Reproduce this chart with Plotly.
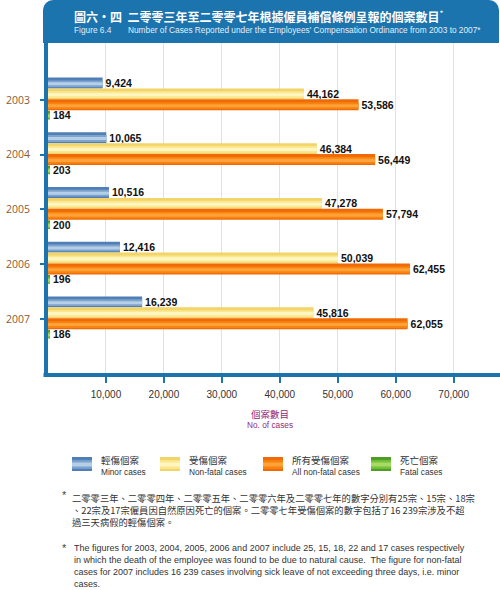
import plotly.graph_objects as go

years = ["2003", "2004", "2005", "2006", "2007"]
minor_cases = [9424, 10065, 10516, 12416, 16239]
nonfatal_cases = [44162, 46384, 47278, 50039, 45816]
all_nonfatal_cases = [53586, 56449, 57794, 62455, 62055]
fatal_cases = [184, 203, 200, 196, 186]

x_ticks = [10000, 20000, 30000, 40000, 50000, 60000, 70000]
x_ticktext = ["10,000", "20,000", "30,000", "40,000", "50,000", "60,000", "70,000"]

W, H = 500, 590
L, R, T, B = 48, 500, 43, 373  # plot area in pixels

def px(x):
    return (x - L) / (R - L)

def py(y):
    return (B - y) / (B - T)

BLUE = "#1B74AE"
CJK = "Noto Sans CJK TC"

fig = go.Figure()

series = [
    (minor_cases, -0.41, 0.20, ["#4F7FB6", "#7EA4CD", "#B4CFE6"]),
    (nonfatal_cases, -0.21, 0.20, ["#F2D468", "#F9E88F", "#FFF6C2"]),
    (all_nonfatal_cases, -0.01, 0.20, ["#F06A08", "#F8840F", "#FFA23A"]),
    (fatal_cases, 0.20, 0.16, ["#4E9E26", "#78C13E", "#A8DB66"]),
]

for vals, off, wd, cols in series:
    fracs = [1.0, 0.62, 0.28]
    for k, (fr, c) in enumerate(zip(fracs, cols)):
        w = wd * fr
        o = off + (wd - w) / 2 + (0.015 if k > 0 else 0)
        kw = {}
        if k == 0:
            kw = dict(text=[f"{v:,}" for v in vals], textposition="outside",
                      textfont=dict(family="Liberation Sans, Arial", size=10.5, color="#111111", weight="bold"),
                      constraintext="none", cliponaxis=False)
        fig.add_trace(go.Bar(
            y=years, x=vals, orientation="h", width=w, offset=o,
            marker=dict(color=c, line=dict(width=0)),
            showlegend=False, hoverinfo="skip", **kw))

fig.update_layout(
    width=W, height=H,
    margin=dict(l=L, r=W - R, t=T, b=H - B, pad=0),
    paper_bgcolor="white", plot_bgcolor="white",
    barmode="overlay",
    showlegend=False,
    font=dict(family="Liberation Sans, Arial", color="#333333"),
    xaxis=dict(range=[0, (R - L) / 57.95 * 10000], tickvals=x_ticks, ticktext=x_ticktext,
               showgrid=True, gridcolor="#CFE7F3", gridwidth=1.2,
               zeroline=False, showline=False,
               ticks="outside", ticklen=9, tickwidth=2, tickcolor=BLUE,
               ticklabelstandoff=3, automargin=False,
               tickfont=dict(family="Liberation Sans, Arial", size=10, color="#333333")),
    yaxis=dict(type="category", range=[4.99, -1.04],
               showgrid=False, zeroline=False, showline=True, linecolor=BLUE, linewidth=4, mirror=False,
               ticks="outside", ticklen=4, tickwidth=2, tickcolor=BLUE,
               ticklabelstandoff=8, automargin=False,
               tickfont=dict(family="Open Sans", size=10.5, color="#8B5A33")),
)

shapes = []
# white strip at far right edge (keeps the right side open like the reference)
shapes.append(dict(type="rect", xref="paper", yref="paper",
                   x0=px(496.5), x1=px(501), y0=py(372.8), y1=py(43.5),
                   fillcolor="white", line=dict(width=0), layer="above"))
# bottom axis line
shapes.append(dict(type="line", xref="paper", yref="paper",
                   x0=px(43.5), x1=px(500), y0=py(375), y1=py(375),
                   line=dict(color=BLUE, width=4), layer="above"))
# header banner with rounded top corners
r = 10
shapes.append(dict(type="rect", xref="paper", yref="paper",
                   x0=px(43), x1=px(499), y0=py(43), y1=py(r),
                   fillcolor=BLUE, line=dict(width=0), layer="above"))
shapes.append(dict(type="rect", xref="paper", yref="paper",
                   x0=px(43 + r), x1=px(499 - r), y0=py(r + 1), y1=py(0),
                   fillcolor=BLUE, line=dict(width=0), layer="above"))
for cx in (43 + r, 499 - r):
    shapes.append(dict(type="circle", xref="paper", yref="paper",
                       x0=px(cx - r), x1=px(cx + r), y0=py(2 * r), y1=py(0),
                       fillcolor=BLUE, line=dict(width=0), layer="above"))

legend_items = [
    (72, ["#4F7FB6", "#7EA4CD", "#B4CFE6"], "輕傷個案", "Minor cases"),
    (160, ["#F2D468", "#F9E88F", "#FFF6C2"], "受傷個案", "Non-fatal cases"),
    (263, ["#F06A08", "#F8840F", "#FFA23A"], "所有受傷個案", "All non-fatal cases"),
    (371, ["#4E9E26", "#78C13E", "#A8DB66"], "死亡個案", "Fatal cases"),
]
annotations = []
for lx, cols, zh, en in legend_items:
    sy0, sy1 = 457, 471
    for fr, c in zip([1.0, 0.62, 0.28], cols):
        h = (sy1 - sy0) * fr
        cy = (sy0 + sy1) / 2 + (0.5 if fr < 1 else 0)
        shapes.append(dict(type="rect", xref="paper", yref="paper",
                           x0=px(lx), x1=px(lx + 20), y0=py(cy - h / 2), y1=py(cy + h / 2),
                           fillcolor=c, line=dict(width=0)))
    annotations.append(dict(xref="paper", yref="paper", x=px(lx + 27), y=py(460),
                            text=zh, showarrow=False, xanchor="left", yanchor="middle",
                            font=dict(family=CJK, size=9.5, color="#333333")))
    annotations.append(dict(xref="paper", yref="paper", x=px(lx + 27), y=py(472),
                            text=en, showarrow=False, xanchor="left", yanchor="middle",
                            font=dict(family="Liberation Sans, Arial", size=8.3, color="#333333")))

annotations.append(dict(xref="paper", yref="paper", x=px(72), y=py(15.5),
                        text="<b>圖六・四  二零零三年至二零零七年根據僱員補償條例呈報的個案數目</b><sup>*</sup>",
                        showarrow=False, xanchor="left", yanchor="middle",
                        font=dict(family=CJK, size=12, color="white")))
annotations.append(dict(xref="paper", yref="paper", x=px(72), y=py(30),
                        text="Figure 6.4", showarrow=False, xanchor="left", yanchor="middle",
                        font=dict(family="Liberation Sans, Arial", size=8.3, color="#E3EEF7")))
annotations.append(dict(xref="paper", yref="paper", x=px(126), y=py(30),
                        text="Number of Cases Reported under the Employees' Compensation Ordinance from 2003 to 2007*",
                        showarrow=False, xanchor="left", yanchor="middle",
                        font=dict(family="Liberation Sans, Arial", size=8.3, color="#E3EEF7")))

annotations.append(dict(xref="paper", yref="paper", x=px(270), y=py(413.5),
                        text="個案數目", showarrow=False, xanchor="center", yanchor="middle",
                        font=dict(family=CJK, size=9.5, color="#8E2B80")))
annotations.append(dict(xref="paper", yref="paper", x=px(270), y=py(425),
                        text="No. of cases", showarrow=False, xanchor="center", yanchor="middle",
                        font=dict(family="Liberation Sans, Arial", size=8.3, color="#8E2B80")))

annotations.append(dict(xref="paper", yref="paper", x=px(60), y=py(495), text="*",
                        showarrow=False, xanchor="left", yanchor="middle",
                        font=dict(family="Liberation Sans, Arial", size=11, color="#444444")))
annotations.append(dict(xref="paper", yref="paper", x=px(60), y=py(548), text="*",
                        showarrow=False, xanchor="left", yanchor="middle",
                        font=dict(family="Liberation Sans, Arial", size=11, color="#444444")))
zh_lines = [
    "二零零三年、二零零四年、二零零五年、二零零六年及二零零七年的數字分別有25宗、15宗、18宗",
    "、22宗及17宗僱員因自然原因死亡的個案。二零零七年受傷個案的數字包括了16 239宗涉及不超",
    "過三天病假的輕傷個案。",
]
annotations.append(dict(xref="paper", yref="paper", x=px(70), y=py(489), text="<br>".join(zh_lines),
                        showarrow=False, xanchor="left", yanchor="top", align="left",
                        font=dict(family=CJK, size=9.3, color="#333333")))
en_lines = [
    "The figures for 2003, 2004, 2005, 2006 and 2007 include 25, 15, 18, 22 and 17 cases respectively",
    "in which the death of the employee was found to be due to natural cause.  The figure for non-fatal",
    "cases for 2007 includes 16 239 cases involving sick leave of not exceeding three days, i.e. minor",
    "cases.",
]
for i, t in enumerate(en_lines):
    annotations.append(dict(xref="paper", yref="paper", x=px(72), y=py(548 + 12 * i), text=t,
                            showarrow=False, xanchor="left", yanchor="middle",
                            font=dict(family="Liberation Sans, Arial", size=9, color="#333333")))

fig.update_layout(shapes=shapes, annotations=annotations)
fig.write_html("out.html")
